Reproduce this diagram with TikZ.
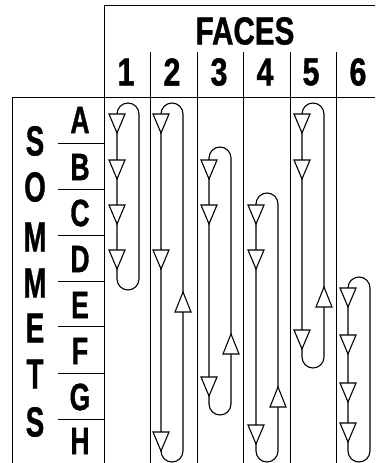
\documentclass[tikz,border=0pt]{standalone}
\usepackage{fontspec}
\setmainfont{Liberation Sans}
\newfontfamily\heavy[BoldFeatures={FakeBold=1.2}]{Liberation Sans}
\newcommand\ftriD[2]{\draw[tri] (#1-8,#2) -- (#1+8,#2) -- (#1,#2+19) -- cycle;}
\newcommand\ftriU[2]{\draw[tri] (#1-8,#2+20) -- (#1+8,#2+20) -- (#1,#2) -- cycle;}
\newcommand\faceloop[3]{\draw[loopline] (#1,#2) arc[start angle=180,end angle=360,radius=11] -- (#1+22,#3) arc[start angle=0,end angle=180,radius=11] -- cycle;}
\newcommand\cond[2]{\scalebox{#1}[1]{#2}}
\begin{document}
\begin{tikzpicture}[x=1pt,y=-1pt,
  frame/.style={line width=0.8pt},
  loopline/.style={line width=1.1pt},
  tri/.style={line width=1.1pt,fill=white,line join=miter},
  big/.style={inner sep=0pt,font=\heavy\bfseries\fontsize{39}{39}\selectfont},
  num/.style={inner sep=0pt,font=\heavy\bfseries\fontsize{39}{39}\selectfont},
  vlab/.style={inner sep=0pt,font=\heavy\bfseries\fontsize{38}{38}\selectfont},
  slab/.style={inner sep=0pt,font=\heavy\bfseries\fontsize{42}{42}\selectfont}]
\useasboundingbox (0,0) rectangle (375,463);
% frame
\draw[frame] (104,463) -- (104,5) -- (375,5);
\draw[frame] (12,463) -- (12,97) -- (375,97);
\foreach \x in {150,197,243,290,336} \draw[frame] (\x,52) -- (\x,463);
\foreach \y in {143,189,235,281,326,373,419} \draw[frame] (58,\y) -- (104,\y);
% texts
\node[big] (faces) at (245,31) {\cond{0.76}{FACES}};
\foreach \t/\x in {1/126,2/172,3/219,4/265,5/311,6/358}
  \node[num] (f\t) at (\x,72) {\cond{0.78}{\t}};
\foreach \t/\y in {A/120,B/167,C/213,D/259,E/305,F/351,G/397,H/441}
  \node[vlab] (v\t) at (80,\y) {\cond{0.7}{\t}};
\foreach \t/\y/\n in {S/141/1,O/187/2,M/237/3,M/283/4,E/328/5,T/374/6,S/422/7}
  \node[slab] (s\n) at (35,\y) {\cond{0.66}{\t}};
% face 1
\faceloop{117}{114}{279}
\ftriD{117}{114}\ftriD{117}{160}\ftriD{117}{205}\ftriD{117}{250}
% face 2
\faceloop{161}{114}{451}
\ftriD{161}{114}\ftriD{161}{250}\ftriD{161}{432}
\ftriU{183}{292}
% face 3
\faceloop{209}{158}{404}
\ftriD{209}{160}\ftriD{209}{205}\ftriD{209}{377}
\ftriU{231}{334}
% face 4
\faceloop{256}{204}{451}
\ftriD{256}{205}\ftriD{256}{250}\ftriD{256}{425}
\ftriU{278}{387}
% face 5
\faceloop{302}{114}{357}
\ftriD{302}{114}\ftriD{302}{160}\ftriD{302}{330}
\ftriU{324}{287}
% face 6
\faceloop{348}{288}{451}
\ftriD{348}{288}\ftriD{348}{335}\ftriD{348}{383}\ftriD{348}{423}
\end{tikzpicture}
\end{document}
